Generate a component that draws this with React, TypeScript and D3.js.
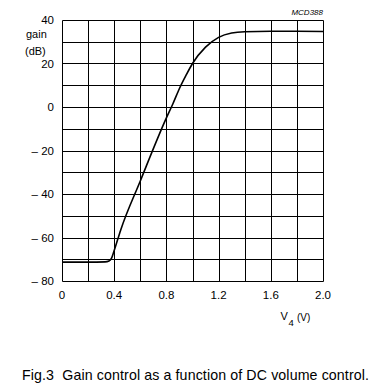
import React from "react";
import * as d3 from "d3";

const xTicks = [0, 0.4, 0.8, 1.2, 1.6, 2.0];
const xTickLabels = ["0", "0.4", "0.8", "1.2", "1.6", "2.0"];
const yTicks = [40, 20, 0, -20, -40, -60, -80];
const yTickLabels = ["40", "20", "0", "– 20", "– 40", "– 60", "– 80"];
const xGrid = [0, 0.2, 0.4, 0.6, 0.8, 1.0, 1.2, 1.4, 1.6, 1.8, 2.0];
const yGrid = [40, 30, 20, 10, 0, -10, -20, -30, -40, -50, -60, -70, -80];

const voltage = [0, 0.2, 0.33, 0.36, 0.38, 0.4, 0.45, 0.6, 0.8, 0.85, 0.9, 0.95, 1.0, 1.1, 1.2, 1.3, 1.4, 1.6, 1.8, 2.0];
const gain = [-71.3, -71.3, -71.2, -70.8, -69.5, -66, -56.5, -34, -5, 1.5, 8.5, 14.5, 20, 27.5, 32, 34, 34.6, 34.8, 34.8, 34.7];

export default function App() {
  const x = d3.scaleLinear().domain([0, 2]).range([62, 323]);
  const y = d3.scaleLinear().domain([-80, 40]).range([281, 20]);
  const pts = voltage.map((v, i) => [v, gain[i]] as [number, number]);
  const line = d3
    .line<[number, number]>()
    .x((d) => x(d[0]))
    .y((d) => y(d[1]))
    .curve(d3.curveMonotoneX);
  const px = (v: number) => Math.round(v) + 0.5;
  const font = "Liberation Sans, Arial, Helvetica, sans-serif";
  return (
    <svg
      width={379}
      height={389}
      style={{ position: "absolute", left: 0, top: 0, background: "#fff" }}
      fontFamily={font}
    >
      <rect x={0} y={0} width={379} height={389} fill="#fff" />
      {xGrid.map((v) => (
        <line key={"xg" + v} x1={px(x(v))} x2={px(x(v))} y1={px(y(40))} y2={px(y(-80))} stroke="#000" strokeWidth={1} />
      ))}
      {yGrid.map((v) => (
        <line key={"yg" + v} x1={px(x(0))} x2={px(x(2))} y1={px(y(v))} y2={px(y(v))} stroke="#000" strokeWidth={1} />
      ))}
      <path d={line(pts) || ""} fill="none" stroke="#000" strokeWidth={1.6} />
      {yTicks.map((v, i) => (
        <text key={"yt" + v} x={54} y={y(v) + 4} fontSize={11.5} textAnchor="end" fill="#000">
          {yTickLabels[i]}
        </text>
      ))}
      {xTicks.map((v, i) => (
        <text key={"xt" + v} x={x(v)} y={299} fontSize={11.5} textAnchor="middle" fill="#000">
          {xTickLabels[i]}
        </text>
      ))}
      <text x={26} y={38} fontSize={11} fill="#000">gain</text>
      <text x={25} y={55} fontSize={11} fill="#000">(dB)</text>
      <text x={323} y={15} fontSize={8} fontStyle="italic" textAnchor="end" fill="#000">MCD388</text>
      <text x={280.5} y={320} fontSize={11} fill="#000">V</text>
      <text x={288.5} y={326} fontSize={9.5} fill="#000">4</text>
      <text x={297} y={321} fontSize={10} fill="#000">(V)</text>
      <text x={22} y={380} fontSize={14.2} fill="#000" textLength={347} lengthAdjust="spacing">
        {"Fig.3\u00a0\u00a0Gain control as a function of DC volume control."}
      </text>
    </svg>
  );
}
